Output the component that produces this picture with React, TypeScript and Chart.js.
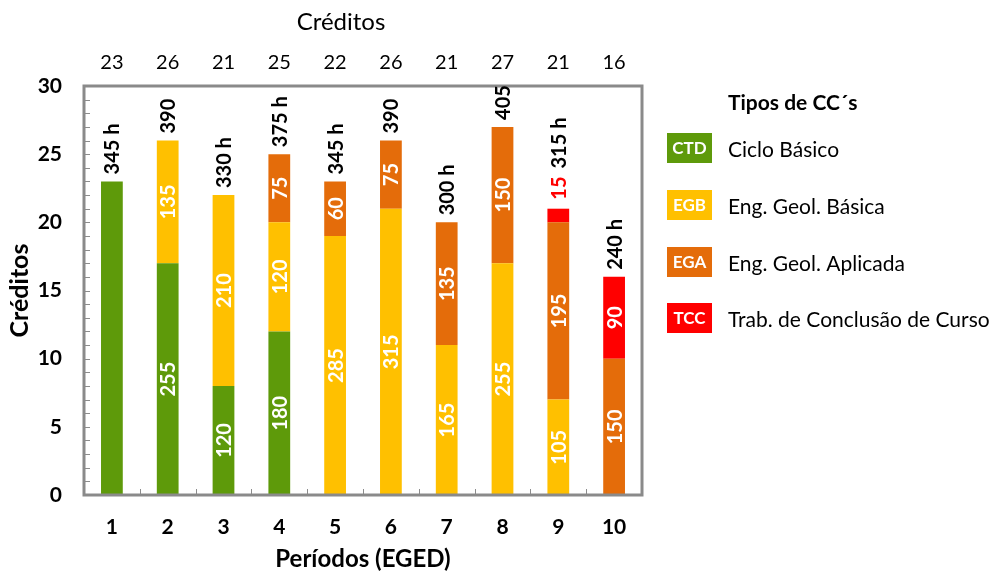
import React, { useEffect, useRef } from "react";
import { Chart, registerables } from "chart.js";

Chart.register(...registerables);

// ---------- data ----------
const periods = ["1", "2", "3", "4", "5", "6", "7", "8", "9", "10"];
const topCredits = ["23", "26", "21", "25", "22", "26", "21", "27", "21", "16"];

const ctdCredits = [23, 17, 8, 12, 0, 0, 0, 0, 0, 0];
const egbCredits = [0, 9, 14, 8, 19, 21, 11, 17, 7, 0];
const egaCredits = [0, 0, 0, 5, 4, 5, 9, 10, 13, 10];
const tccCredits = [0, 0, 0, 0, 0, 0, 0, 0, 1, 6];

const ctdHours = ["", "255", "120", "180", "", "", "", "", "", ""];
const egbHours = ["", "135", "210", "120", "285", "315", "165", "255", "105", ""];
const egaHours = ["", "", "", "75", "60", "75", "135", "150", "195", "150"];
const tccHours = ["", "", "", "", "", "", "", "", "15", "90"];
const totalHours = ["345 h", "390", "330 h", "375 h", "345 h", "390", "300 h", "405", "315 h", "240 h"];

const yTicks = [0, 5, 10, 15, 20, 25, 30];

const legendTitle = "Tipos de CC´s";
const legendCodes = ["CTD", "EGB", "EGA", "TCC"];
const legendNames = ["Ciclo Básico", "Eng. Geol. Básica", "Eng. Geol. Aplicada", "Trab. de Conclusão de Curso"];
const seriesColors = ["#5E9A0A", "#FFC000", "#E46C0A", "#FF0000"];

const FONT = "Lato, 'Open Sans', sans-serif";
const hoursBySeries = [ctdHours, egbHours, egaHours, tccHours];

const customPlugin = {
  id: "customDraw",
  afterDatasetsDraw(chart: any) {
    const ctx: CanvasRenderingContext2D = chart.ctx;
    const { left, right, top, bottom } = chart.chartArea;
    const ys = chart.scales.y;
    const xs = chart.scales.x;
    ctx.save();

    // inward tick marks
    ctx.strokeStyle = "#8c8c8c";
    ctx.lineWidth = 1;
    for (let v = ys.min; v <= ys.max; v++) {
      const py = Math.round(ys.getPixelForValue(v)) + 0.5;
      ctx.beginPath();
      ctx.moveTo(left, py);
      ctx.lineTo(left + 6, py);
      ctx.stroke();
    }
    for (let k = 1; k < periods.length; k++) {
      const px = Math.round((xs.getPixelForValue(k - 1) + xs.getPixelForValue(k)) / 2) + 0.5;
      ctx.beginPath();
      ctx.moveTo(px, bottom);
      ctx.lineTo(px, bottom - 6);
      ctx.stroke();
    }

    // plot border
    ctx.strokeStyle = "#8a8a8a";
    ctx.lineWidth = 3;
    ctx.strokeRect(left, top, right - left, bottom - top);

    // segment labels
    const extraAbove: number[] = periods.map(() => 0);
    const topY: number[] = periods.map(() => bottom);
    chart.data.datasets.forEach((ds: any, i: number) => {
      const meta = chart.getDatasetMeta(i);
      meta.data.forEach((bar: any, j: number) => {
        if (!ds.data[j]) return;
        const { y } = bar.getProps(["y"], true);
        topY[j] = Math.min(topY[j], y);
      });
    });
    chart.data.datasets.forEach((ds: any, i: number) => {
      const meta = chart.getDatasetMeta(i);
      const labels = hoursBySeries[i];
      meta.data.forEach((bar: any, j: number) => {
        const label = labels[j];
        if (!label || !ds.data[j]) return;
        const { x, y, base } = bar.getProps(["x", "y", "base"], true);
        const h = base - y;
        ctx.save();
        ctx.font = `bold 20px ${FONT}`;
        if (h >= 24) {
          ctx.translate(x, (y + base) / 2);
          ctx.rotate(-Math.PI / 2);
          ctx.fillStyle = "#ffffff";
          ctx.textAlign = "center";
          ctx.textBaseline = "middle";
          ctx.fillText(label, 0, 1);
        } else {
          ctx.translate(x, topY[j] - 9);
          ctx.rotate(-Math.PI / 2);
          ctx.fillStyle = ds.backgroundColor;
          ctx.textAlign = "left";
          ctx.textBaseline = "middle";
          ctx.fillText(label, 0, 1);
          extraAbove[j] += ctx.measureText(label).width + 10;
        }
        ctx.restore();
      });
    });

    // total labels
    periods.forEach((_, j) => {
      const x = xs.getPixelForValue(j);
      ctx.save();
      ctx.font = `bold 20px ${FONT}`;
      ctx.translate(x, topY[j] - 7 - extraAbove[j]);
      ctx.rotate(-Math.PI / 2);
      ctx.fillStyle = "#000000";
      ctx.textAlign = "left";
      ctx.textBaseline = "middle";
      ctx.fillText(totalHours[j], 0, 1);
      ctx.restore();
    });
    ctx.restore();
  },
  afterDraw(chart: any) {
    const ctx: CanvasRenderingContext2D = chart.ctx;
    ctx.save();
    // top title
    ctx.font = `24px ${FONT}`;
    ctx.fillStyle = "#000000";
    ctx.textAlign = "center";
    ctx.textBaseline = "middle";
    ctx.fillText("Créditos", 341, 22);

    // legend
    ctx.font = `bold 21px ${FONT}`;
    ctx.textAlign = "left";
    ctx.fillText(legendTitle, 728, 103);
    const rowY = [148, 205, 262, 318];
    legendCodes.forEach((code, i) => {
      const cy = rowY[i];
      ctx.fillStyle = seriesColors[i];
      ctx.fillRect(667, cy - 15, 45, 30);
      ctx.fillStyle = "#ffffff";
      ctx.font = `bold 17px ${FONT}`;
      ctx.textAlign = "center";
      ctx.fillText(code, 689.5, cy + 1);
      ctx.fillStyle = "#000000";
      ctx.font = `21px ${FONT}`;
      ctx.textAlign = "left";
      ctx.fillText(legendNames[i], 728, cy + 2);
    });
    ctx.restore();
  },
};

export default function App() {
  const canvasRef = useRef<HTMLCanvasElement | null>(null);

  useEffect(() => {
    if (!canvasRef.current) return;
    const mk = (label: string, data: number[], color: string) => ({
      label,
      data,
      backgroundColor: color,
      borderWidth: 0,
      barPercentage: 0.39,
      categoryPercentage: 1,
      xAxisID: "x",
      yAxisID: "y",
    });
    const chart = new Chart(canvasRef.current, {
      type: "bar",
      data: {
        labels: periods,
        datasets: [
          mk(legendCodes[0], ctdCredits, seriesColors[0]),
          mk(legendCodes[1], egbCredits, seriesColors[1]),
          mk(legendCodes[2], egaCredits, seriesColors[2]),
          mk(legendCodes[3], tccCredits, seriesColors[3]),
        ],
      },
      options: {
        animation: false,
        responsive: false,
        layout: { padding: { left: 0, top: 0, bottom: 0, right: 355 } },
        plugins: {
          legend: { display: false },
          tooltip: { enabled: false },
          title: { display: false },
        },
        scales: {
          x: {
            type: "category",
            position: "bottom",
            stacked: true,
            grid: { display: false, drawTicks: false },
            border: { display: false },
            ticks: {
              color: "#000000",
              font: { family: FONT, size: 21, weight: "bold" },
              padding: 20,
              maxRotation: 0,
            },
            title: {
              display: true,
              text: "Períodos (EGED)",
              color: "#000000",
              font: { family: FONT, size: 24, weight: "bold" },
              padding: { top: 0, bottom: 2 },
            },
            afterFit: (s: any) => {
              s.height = 81;
            },
          },
          xTop: {
            type: "category",
            position: "top",
            labels: topCredits,
            grid: { display: false, drawTicks: false },
            border: { display: false },
            ticks: {
              color: "#000000",
              font: { family: FONT, size: 20 },
              padding: 11,
              maxRotation: 0,
            },
            afterFit: (s: any) => {
              s.height = 86;
            },
          },
          y: {
            stacked: true,
            min: 0,
            max: 30,
            afterBuildTicks: (s: any) => {
              s.ticks = yTicks.map((v) => ({ value: v }));
            },
            grid: { display: false, drawTicks: false },
            border: { display: false },
            ticks: {
              color: "#000000",
              font: { family: FONT, size: 21, weight: "bold" },
              padding: 22,
            },
            title: {
              display: true,
              text: "Créditos",
              color: "#000000",
              font: { family: FONT, size: 25, weight: "bold" },
              padding: { top: 5, bottom: 0 },
            },
            afterFit: (s: any) => {
              s.width = 84;
            },
          },
        },
      } as any,
      plugins: [customPlugin],
    });
    return () => chart.destroy();
  }, []);

  return (
    <div style={{ position: "fixed", left: 0, top: 0, width: 997, height: 576, background: "#ffffff" }}>
      <canvas ref={canvasRef} width={997} height={576} style={{ display: "block" }} />
    </div>
  );
}
